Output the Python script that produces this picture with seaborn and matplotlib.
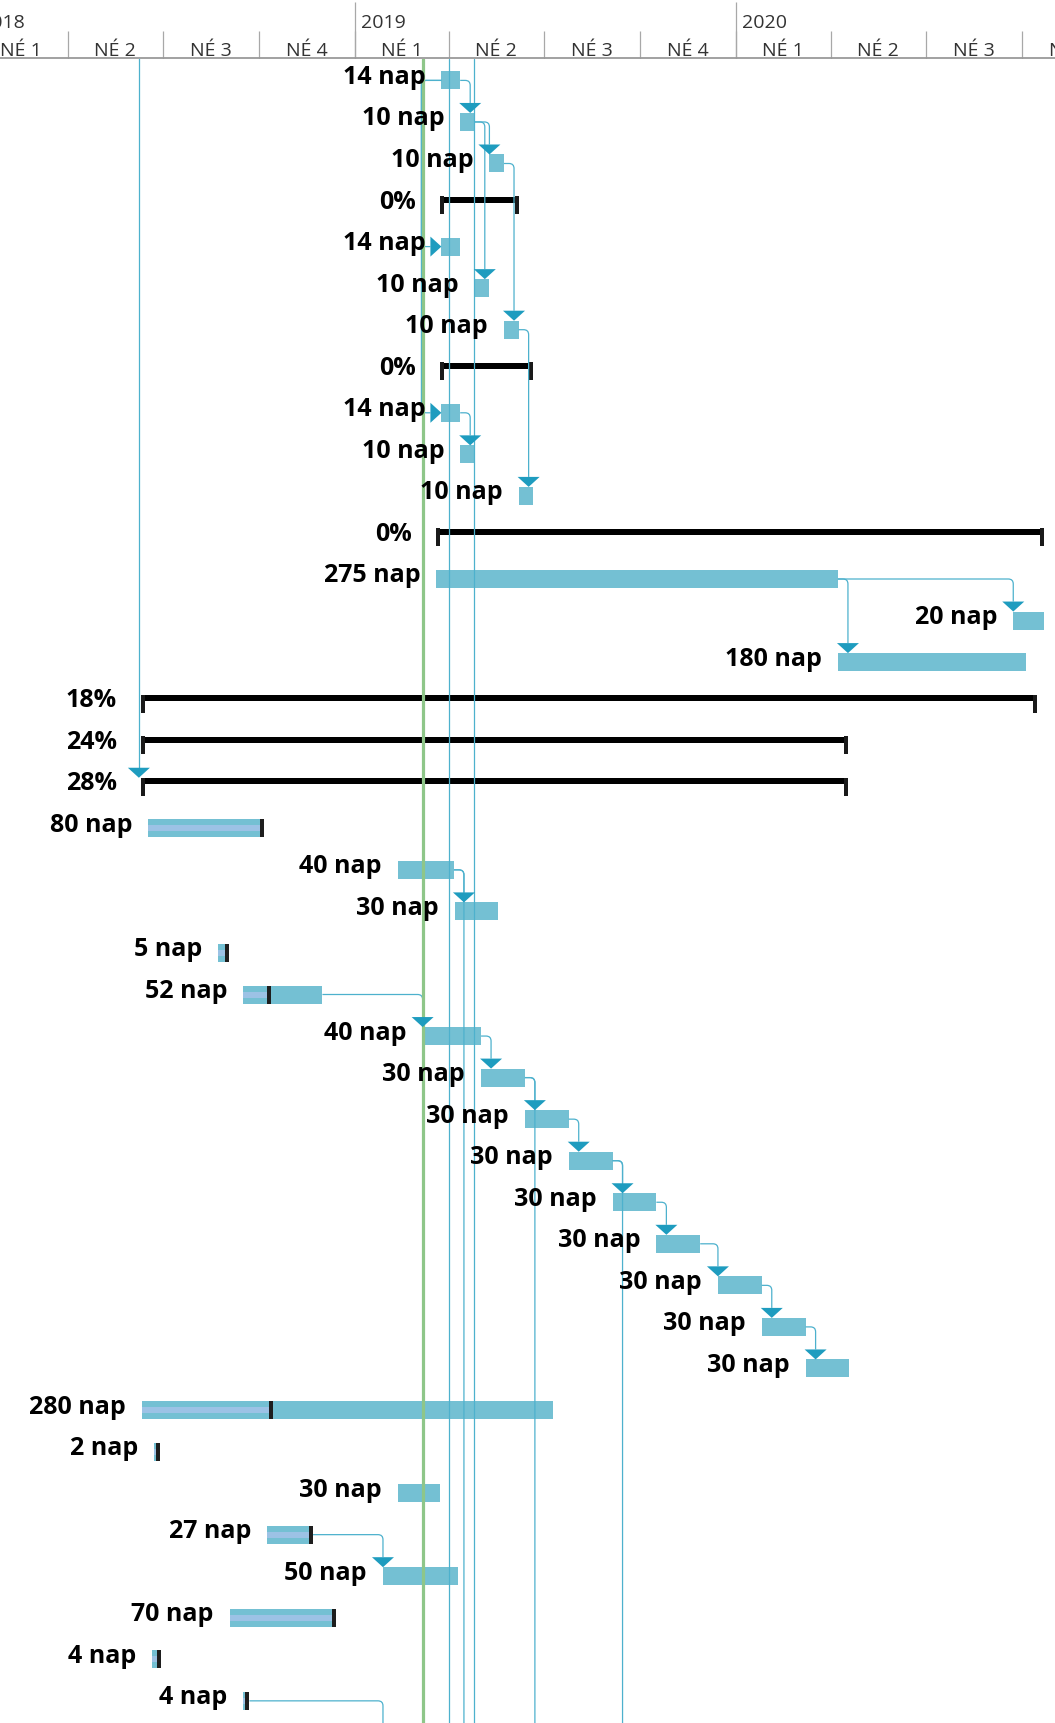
import matplotlib
matplotlib.use("Agg")
import matplotlib.pyplot as plt
import matplotlib.dates as mdates
from matplotlib.path import Path
from matplotlib.patches import PathPatch, Polygon, Rectangle
import numpy as np
import pandas as pd
import seaborn as sns

# ── Data ───────────────────────────────────────────────────────────────
labels = [
    "14 nap", "10 nap", "10 nap", "0%", "14 nap", "10 nap", "10 nap", "0%",
    "14 nap", "10 nap", "10 nap", "0%", "275 nap", "20 nap", "180 nap",
    "18%", "24%", "28%", "80 nap", "40 nap", "30 nap", "5 nap", "52 nap",
    "40 nap", "30 nap", "30 nap", "30 nap", "30 nap", "30 nap", "30 nap",
    "30 nap", "30 nap", "280 nap", "2 nap", "30 nap", "27 nap", "50 nap",
    "70 nap", "4 nap", "4 nap",
]
summary_rows = [3, 7, 11, 15, 16, 17]
starts = [
    "2019-03-25", "2019-04-12", "2019-05-10", "2019-03-24", "2019-03-25",
    "2019-04-26", "2019-05-24", "2019-03-24", "2019-03-25", "2019-04-12",
    "2019-06-07", "2019-03-20", "2019-03-20", "2020-09-23", "2020-04-08",
    "2018-06-10", "2018-06-10", "2018-06-10", "2018-06-17", "2019-02-11",
    "2019-04-07", "2018-08-23", "2018-09-16", "2019-03-07", "2019-05-02",
    "2019-06-13", "2019-07-25", "2019-09-05", "2019-10-17", "2019-12-15",
    "2020-01-26", "2020-03-08", "2018-06-11", "2018-06-23", "2019-02-11",
    "2018-10-09", "2019-01-28", "2018-09-03", "2018-06-21", "2018-09-16",
]
ends = [
    "2019-04-12", "2019-04-26", "2019-05-24", "2019-06-07", "2019-04-12",
    "2019-05-10", "2019-06-07", "2019-06-21", "2019-04-12", "2019-04-26",
    "2019-06-21", "2020-10-22", "2020-04-08", "2020-10-22", "2020-10-05",
    "2020-10-16", "2020-04-18", "2020-04-18", "2018-10-06", "2019-04-06",
    "2019-05-18", "2018-09-02", "2018-12-01", "2019-05-02", "2019-06-13",
    "2019-07-25", "2019-09-05", "2019-10-17", "2019-11-28", "2020-01-26",
    "2020-03-08", "2020-04-19", "2019-07-10", "2018-06-28", "2019-03-24",
    "2018-11-22", "2019-04-10", "2018-12-14", "2018-06-29", "2018-09-22",
]
# progress (done up to) for started tasks
progress = {
    18: "2018-10-06", 21: "2018-09-02", 22: "2018-10-13", 32: "2018-10-15",
    33: "2018-06-28", 35: "2018-11-22", 37: "2018-12-14", 38: "2018-06-29",
    39: "2018-09-22",
}
# finish-to-start links (predecessor row, successor row)
fs_links = [
    (0, 1), (1, 2), (1, 5), (2, 6), (6, 10), (8, 9), (12, 13), (12, 14),
    (19, 20), (22, 23), (23, 24), (24, 25), (25, 26), (26, 27), (27, 28),
    (28, 29), (29, 30), (30, 31), (35, 36),
]
ss_links = [(0, 4), (0, 8)]
# links to tasks below the visible rows (pred row, successor start)
links_down = [(19, None), (24, None), (26, None), (39, "2019-01-28")]
links_from_above = [17]
links_through = ["2019-04-01", "2019-04-25"]
today = "2019-03-07 12:00"

# ── Layout / style ─────────────────────────────────────────────────────
W, H, DPI = 1055, 1724, 100
HEADER_PX = 60
X_MIN, X_MAX = "2018-01-26", "2020-11-02"
ROW_TOP, ROW_BOTTOM = -0.515, 39.533

BAR = "#74C0D3"
STRIPE = "#9CC2E5"
LINK = "#4DB1CD"
ARROW = "#1E9CBF"
TODAY = "#8EC689"
GRID = "#A8A8A8"

sns.set_theme(style="white")
plt.rcParams["font.family"] = ["Open Sans", "DejaVu Sans"]

fig = plt.figure(figsize=(W / DPI, H / DPI), dpi=DPI)
ax = fig.add_axes([0, 0, 1, (H - HEADER_PX) / H])
hax = fig.add_axes([0, (H - HEADER_PX) / H, 1, HEADER_PX / H])

x0, x1 = mdates.date2num(pd.Timestamp(X_MIN)), mdates.date2num(pd.Timestamp(X_MAX))
DPX = (x1 - x0) / W                              # days per pixel
RPX = (ROW_BOTTOM - ROW_TOP) / (H - HEADER_PX)   # rows per pixel


def dnum(s):
    return mdates.date2num(pd.Timestamp(s))


s_num = np.array([dnum(s) for s in starts])
e_num = np.array([dnum(e) for e in ends])
rows = np.arange(len(labels))
is_sum = np.isin(rows, summary_rows)


def link_path(pts, r=5):
    """Orthogonal polyline with small rounded corners (data coords)."""
    rad = np.array([r * DPX, r * RPX])
    verts, codes = [pts[0]], [Path.MOVETO]
    for a, b, c in zip(pts[:-2], pts[1:-1], pts[2:]):
        a, b, c = map(np.asarray, (a, b, c))
        d_in, d_out = np.sign(b - a), np.sign(c - b)
        verts += [b - d_in * rad, b, b + d_out * rad]
        codes += [Path.LINETO, Path.CURVE3, Path.CURVE3]
    verts.append(pts[-1])
    codes.append(Path.LINETO)
    return Path(verts, codes)


def draw_link(pts):
    ax.add_patch(PathPatch(link_path(pts), fill=False, edgecolor=LINK,
                           lw=0.9, zorder=4))


def arrow_down(x, row):
    tip = row - 9 * RPX
    ax.add_patch(Polygon([(x - 11 * DPX, tip - 10 * RPX),
                          (x + 11 * DPX, tip - 10 * RPX), (x, tip)],
                         closed=True, facecolor=ARROW, lw=0, zorder=5))


def arrow_right(x, row):
    ax.add_patch(Polygon([(x - 11 * DPX, row - 10 * RPX),
                          (x - 11 * DPX, row + 10 * RPX), (x, row)],
                         closed=True, facecolor=ARROW, lw=0, zorder=5))


# ── Task bars ──────────────────────────────────────────────────────────
t = ~is_sum
ax.barh(rows[t], (e_num - s_num)[t], left=s_num[t], height=18 * RPX,
        color=BAR, linewidth=0, edgecolor="none", zorder=2)

for i, p in progress.items():
    pe = dnum(p)
    ax.barh(i, pe - s_num[i], left=s_num[i], height=6 * RPX,
            color=STRIPE, linewidth=0, edgecolor="none", zorder=3)
    ax.add_patch(Rectangle((pe - 4 * DPX, i - 9 * RPX), 4 * DPX, 18 * RPX,
                           facecolor="#1E1E1E", lw=0, zorder=3))

# ── Summary bars ───────────────────────────────────────────────────────
for i in summary_rows:
    ax.barh(i - 5.5 * RPX, e_num[i] - s_num[i], left=s_num[i],
            height=6 * RPX, color="black", linewidth=0, edgecolor="none",
            zorder=3)
    for cx in (s_num[i], e_num[i] - 4 * DPX):
        ax.add_patch(Rectangle((cx, i - 9 * RPX), 4 * DPX, 18 * RPX,
                               facecolor="#1A1A1A", lw=0, zorder=3))

# ── Labels ─────────────────────────────────────────────────────────────
for i, lab in enumerate(labels):
    gap = 24 if is_sum[i] else 16
    ax.text(s_num[i] - gap * DPX, i + 2.5 * RPX, lab, ha="right",
            va="baseline", fontsize=18, fontweight="bold", color="black",
            zorder=6)

# ── Links ──────────────────────────────────────────────────────────────
for p, s in fs_links:
    xl = max(e_num[p] + 10 * DPX, s_num[s])
    draw_link([(e_num[p], p), (xl, p), (xl, s - 19 * RPX)])
    arrow_down(xl, s)

for p, s in ss_links:
    xl = s_num[p] - 20 * DPX
    draw_link([(s_num[p], p), (xl, p), (xl, s), (s_num[s] - 11 * DPX, s)])
    arrow_right(s_num[s], s)

for p, target in links_down:
    xl = e_num[p] + 10 * DPX
    if target is not None:
        xl = max(xl, dnum(target))
    draw_link([(e_num[p], p), (xl, p), (xl, ROW_BOTTOM + 2)])

for s in links_from_above:
    xl = s_num[s] - 2 * DPX
    ax.plot([xl, xl], [ROW_TOP - 1, s - 19 * RPX], color=LINK, lw=0.9,
            zorder=4)
    arrow_down(xl, s)

for d in links_through:
    ax.axvline(dnum(d), color=LINK, lw=0.9, zorder=4)

ax.axvline(dnum(today), color=TODAY, lw=2.3, zorder=4)

ax.set_xlim(x0, x1)
ax.set_ylim(ROW_BOTTOM, ROW_TOP)
ax.axis("off")

# ── Timescale header ───────────────────────────────────────────────────
hax.set_xlim(x0, x1)
hax.set_ylim(HEADER_PX, 0)
hax.axis("off")

years = pd.date_range("2018-01-01", "2021-01-01", freq="YS")
quarters = pd.date_range("2018-01-01", "2021-01-01", freq="QS")
hax.vlines(mdates.date2num(years), 3, HEADER_PX, color=GRID, lw=0.9)
hax.vlines(mdates.date2num(quarters), 32, HEADER_PX, color=GRID, lw=0.9)
hax.axhline(59.3, color="#9A9A9A", lw=1.3)

for y in years[:-1]:
    hax.text(mdates.date2num(y) + 6 * DPX, 28, str(y.year), fontsize=14,
             color="#333333", va="baseline", ha="left", clip_on=True)
for qa, qb in zip(quarters[:-1], quarters[1:]):
    mid = (mdates.date2num(qa) + mdates.date2num(qb)) / 2
    hax.text(mid, 56.5, f"NÉ {qa.quarter}", fontsize=14, color="#333333",
             va="baseline", ha="center", clip_on=True)

fig.savefig("out.png", dpi=DPI)
plt.close(fig)
